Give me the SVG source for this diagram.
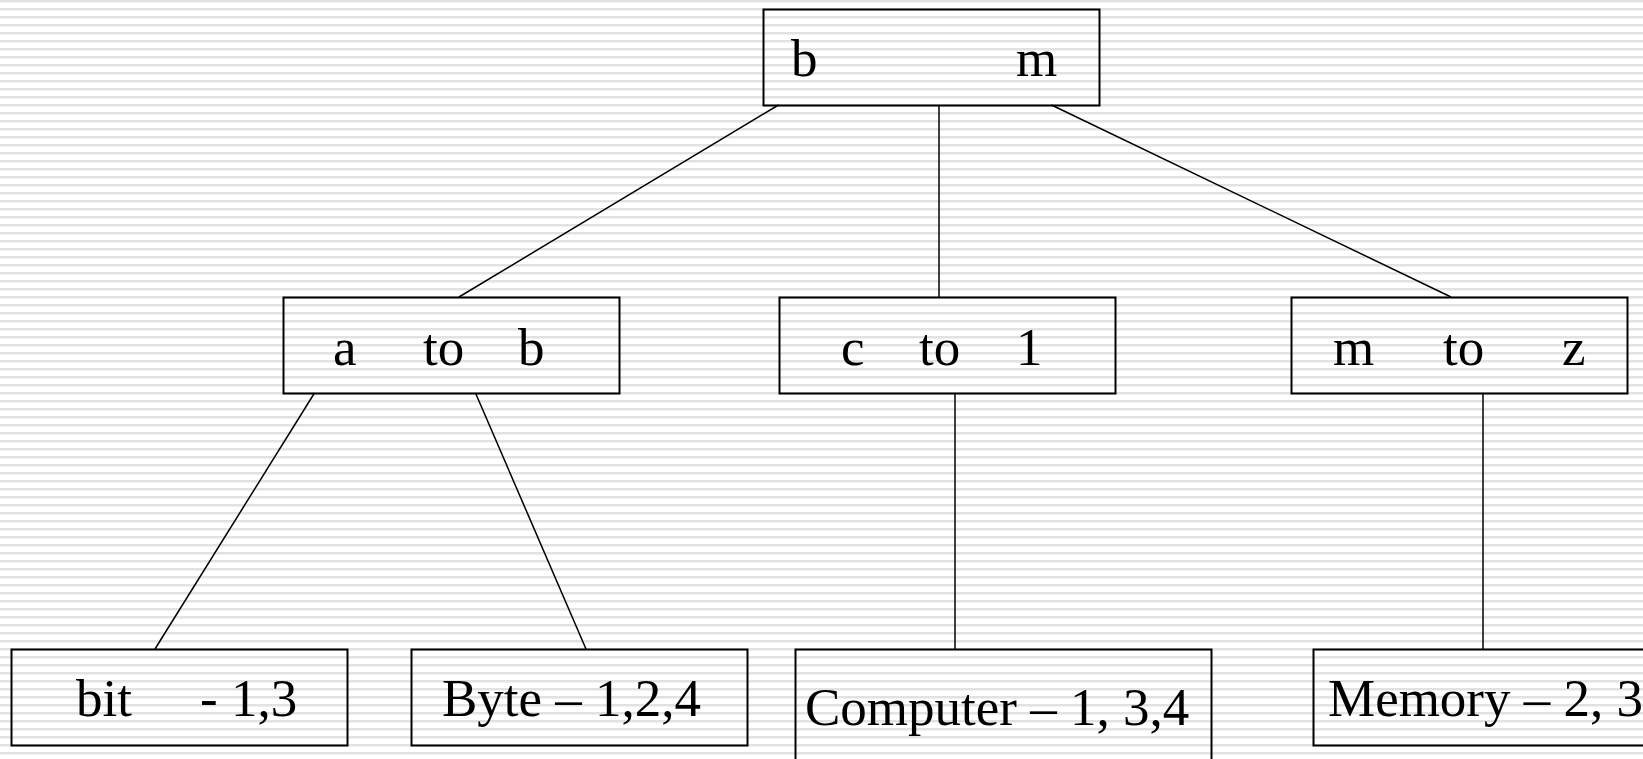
<svg xmlns="http://www.w3.org/2000/svg" width="1643" height="759" viewBox="0 0 1643 759">
<defs>
<pattern id="stripes" x="0" y="0" width="8" height="8" patternUnits="userSpaceOnUse">
<rect x="0" y="0" width="8" height="8" fill="#ffffff"/>
<rect x="0" y="0" width="8" height="2.5" fill="#e2e2e2"/>
</pattern>
<style>
.box{fill:none;stroke:#000;stroke-width:2}
.t{font-family:"Liberation Serif","Times New Roman",serif;font-size:53px;fill:#000}
.c line{stroke:#000;stroke-width:1.5}
</style>
</defs>
<rect x="0" y="0" width="1643" height="759" fill="url(#stripes)"/>
<g class="c" id="connectors">
<line x1="778.5" y1="105" x2="459" y2="297"/>
<line x1="939" y1="105" x2="939" y2="297"/>
<line x1="1051.5" y1="105" x2="1451" y2="297"/>
<line x1="314.5" y1="393" x2="155" y2="649"/>
<line x1="475.5" y1="393" x2="586" y2="649"/>
<line x1="955" y1="393" x2="955" y2="649"/>
<line x1="1483" y1="393" x2="1483" y2="649"/>
</g>
<g id="node-root">
<rect class="box" x="763.5" y="9.5" width="336" height="96"/>
<text class="t" x="791" y="76">b</text>
<text class="t" x="1016" y="76">m</text>
</g>
<g id="node-a-b">
<rect class="box" x="283.5" y="297.5" width="336" height="96"/>
<text class="t" x="333" y="365">a</text>
<text class="t" x="423" y="365">to</text>
<text class="t" x="518" y="365">b</text>
</g>
<g id="node-c-1">
<rect class="box" x="779.5" y="297.5" width="336" height="96"/>
<text class="t" x="841" y="365">c</text>
<text class="t" x="919" y="365">to</text>
<text class="t" x="1016" y="365">1</text>
</g>
<g id="node-m-z">
<rect class="box" x="1291.5" y="297.5" width="336" height="96"/>
<text class="t" x="1333" y="365">m</text>
<text class="t" x="1443" y="365">to</text>
<text class="t" x="1562" y="365">z</text>
</g>
<g id="node-bit">
<rect class="box" x="11.5" y="649.5" width="336" height="96"/>
<text class="t" x="76" y="716">bit</text>
<text class="t" x="200" y="716">- 1,3</text>
</g>
<g id="node-byte">
<rect class="box" x="411.5" y="649.5" width="336" height="96"/>
<text class="t" x="442" y="716">Byte – 1,2,4</text>
</g>
<g id="node-computer">
<rect class="box" x="795.5" y="649.5" width="416" height="120"/>
<text class="t" x="805" y="725">Computer – 1, 3,4</text>
</g>
<g id="node-memory">
<rect class="box" x="1313.5" y="649.5" width="360" height="96"/>
<text class="t" x="1328" y="716">Memory – 2, 3</text>
</g>
</svg>
